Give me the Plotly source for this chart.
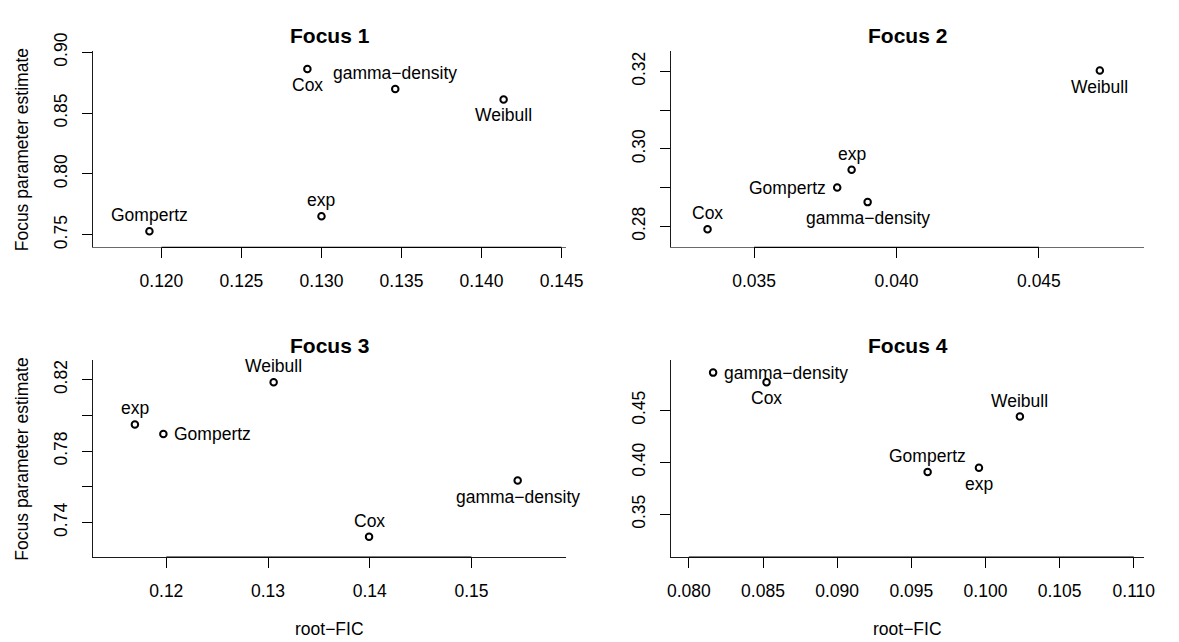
import plotly.graph_objects as go

# ---------------- data ----------------
models = ["exp", "Weibull", "Gompertz", "gamma−density", "Cox"]
focus_titles = ["Focus 1", "Focus 2", "Focus 3", "Focus 4"]

f1_rootfic = [0.13000, 0.14138, 0.11925, 0.13461, 0.12912]
f1_estimate = [0.76513, 0.86123, 0.75295, 0.86975, 0.88615]

f2_rootfic = [0.038424, 0.047138, 0.037918, 0.038986, 0.033366]
f2_estimate = [0.29458, 0.32018, 0.29000, 0.28625, 0.27925]

f3_rootfic = [0.11691, 0.13055, 0.11971, 0.15454, 0.13993]
f3_estimate = [0.79495, 0.81853, 0.78961, 0.76347, 0.73207]

f4_rootfic = [0.09956, 0.10232, 0.09610, 0.081636, 0.085238]
f4_estimate = [0.39478, 0.44413, 0.39068, 0.48635, 0.47703]

f1_xticks = [0.120, 0.125, 0.130, 0.135, 0.140, 0.145]
f1_xticklabels = ["0.120", "0.125", "0.130", "0.135", "0.140", "0.145"]
f1_yticks = [0.75, 0.80, 0.85, 0.90]
f1_yticklabels = ["0.75", "0.80", "0.85", "0.90"]

f2_xticks = [0.035, 0.040, 0.045]
f2_xticklabels = ["0.035", "0.040", "0.045"]
f2_yticks = [0.28, 0.29, 0.30, 0.31, 0.32]
f2_yticklabels = ["0.28", "", "0.30", "", "0.32"]

f3_xticks = [0.12, 0.13, 0.14, 0.15]
f3_xticklabels = ["0.12", "0.13", "0.14", "0.15"]
f3_yticks = [0.74, 0.76, 0.78, 0.80, 0.82]
f3_yticklabels = ["0.74", "", "0.78", "", "0.82"]

f4_xticks = [0.080, 0.085, 0.090, 0.095, 0.100, 0.105, 0.110]
f4_xticklabels = ["0.080", "0.085", "0.090", "0.095", "0.100", "0.105", "0.110"]
f4_yticks = [0.35, 0.40, 0.45]
f4_yticklabels = ["0.35", "0.40", "0.45"]

x_label = "root−FIC"
y_label = "Focus parameter estimate"

# ---------------- styling / layout ----------------
W, H = 1179, 642
FONT = "Liberation Sans, Arial, Helvetica, sans-serif"
FS = 17.5

panels = [
    dict(x=f1_rootfic, y=f1_estimate, xt=f1_xticks, xtl=f1_xticklabels, yt=f1_yticks, ytl=f1_yticklabels,
         xr=[0.11573, 0.14531], yr=[0.73965, 0.9008], col=0, row=0,
         pos=["top", "bottom", "top", "top", "bottom"]),
    dict(x=f2_rootfic, y=f2_estimate, xt=f2_xticks, xtl=f2_xticklabels, yt=f2_yticks, ytl=f2_yticklabels,
         xr=[0.03209, 0.0487], yr=[0.27458, 0.32517], col=1, row=0,
         pos=["top", "bottom", "left", "bottom", "top"]),
    dict(x=f3_rootfic, y=f3_estimate, xt=f3_xticks, xtl=f3_xticklabels, yt=f3_yticks, ytl=f3_yticklabels,
         xr=[0.11280, 0.15934], yr=[0.72067, 0.83086], col=0, row=1,
         pos=["top", "top", "right", "bottom", "top"]),
    dict(x=f4_rootfic, y=f4_estimate, xt=f4_xticks, xtl=f4_xticklabels, yt=f4_yticks, ytl=f4_yticklabels,
         xr=[0.07881, 0.11071], yr=[0.3090, 0.49818], col=1, row=1,
         pos=["bottom", "top", "top", "right", "bottom"]),
]

cols_px = [(90.7, 572.7), (679.3, 1161.0)]
rows_px = [(33.3, 235.7), (352.3, 555.3)]
row_box_color = ["#6a6a6a", "#1a1a1a"]
title_y_px = [17.3, 336.7]
ylab_x_px = 18.3
xlab_y_px = 629.5

def fx(px):
    return px / W

def fy(py):
    return 1 - py / H

shift = {
    "top": dict(xanchor="center", yanchor="middle", xshift=0, yshift=16),
    "bottom": dict(xanchor="center", yanchor="middle", xshift=0, yshift=-16),
    "left": dict(xanchor="right", yanchor="middle", xshift=-9, yshift=0),
    "right": dict(xanchor="left", yanchor="middle", xshift=9, yshift=0),
}

fig = go.Figure()
annotations = []
shapes = []
layout_axes = {}

for i, p in enumerate(panels):
    n = i + 1
    sfx = "" if n == 1 else str(n)
    fig.add_trace(go.Scatter(
        x=p["x"], y=p["y"], mode="markers", xaxis="x" + sfx, yaxis="y" + sfx,
        marker=dict(symbol="circle-open", size=6.5, color="black", line=dict(width=2, color="black")),
        showlegend=False, hoverinfo="skip",
    ))
    x0, x1 = cols_px[p["col"]]
    y0, y1 = rows_px[p["row"]]
    common = dict(showline=True, linewidth=1, mirror=False,
                  ticks="outside", ticklen=10, tickwidth=1, tickcolor="black",
                  showgrid=False, zeroline=False, fixedrange=True,
                  tickfont=dict(family=FONT, size=FS, color="black"))
    layout_axes["xaxis" + sfx] = dict(
        domain=[fx(x0), fx(x1)], range=p["xr"], anchor="y" + sfx, linecolor=row_box_color[p["row"]],
        tickmode="array", tickvals=p["xt"], ticktext=p["xtl"], ticklabelstandoff=8, **common)
    layout_axes["yaxis" + sfx] = dict(
        domain=[fy(y1), fy(y0)], range=p["yr"], anchor="x" + sfx, linecolor="#1a1a1a",
        tickmode="array", tickvals=p["yt"], ticktext=p["ytl"], tickangle=-90, ticklabelstandoff=8, **common)

    # R-style axis segment (dark between first and last tick)
    shapes.append(dict(type="line", xref="x" + sfx, yref="y" + sfx + " domain",
                       x0=min(p["xt"]), x1=max(p["xt"]), y0=0, y1=0,
                       line=dict(color="black", width=1.2)))

    for xv, yv, name, ps in zip(p["x"], p["y"], models, p["pos"]):
        annotations.append(dict(x=xv, y=yv, xref="x" + sfx, yref="y" + sfx, text=name, showarrow=False,
                                font=dict(family=FONT, size=FS, color="black"), **shift[ps]))

    annotations.append(dict(x=fx((x0 + x1) / 2), y=fy(title_y_px[p["row"]]), xref="paper", yref="paper",
                            text="<b>" + focus_titles[i] + "</b>", showarrow=False,
                            xanchor="center", yanchor="middle",
                            font=dict(family=FONT, size=21, color="black")))
    if p["col"] == 0:
        annotations.append(dict(x=fx(ylab_x_px), y=fy((y0 + y1) / 2), xref="paper", yref="paper",
                                text=y_label, showarrow=False, textangle=-90,
                                xanchor="center", yanchor="middle",
                                font=dict(family=FONT, size=FS, color="black")))
    if p["row"] == 1:
        annotations.append(dict(x=fx((x0 + x1) / 2), y=fy(xlab_y_px), xref="paper", yref="paper",
                                text=x_label, showarrow=False,
                                xanchor="center", yanchor="middle",
                                font=dict(family=FONT, size=FS, color="black")))

fig.update_layout(
    width=W, height=H, margin=dict(l=0, r=0, t=0, b=0),
    paper_bgcolor="white", plot_bgcolor="white",
    annotations=annotations, shapes=shapes, showlegend=False,
    font=dict(family=FONT, size=FS, color="black"),
    **layout_axes,
)

fig.write_html("out.html", config={"displayModeBar": False},
               post_script="document.body.style.margin='0';document.body.style.overflow='hidden';")
